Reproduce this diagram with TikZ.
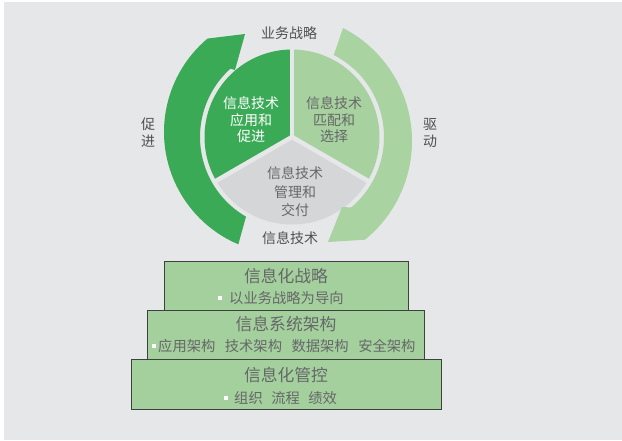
\documentclass[tikz,border=0pt]{standalone}
\usepackage{fontspec}
\newfontfamily\cjk{Noto Sans CJK SC}
\definecolor{bgc}{HTML}{E6E7E8}
\definecolor{dkg}{HTML}{3BAA56}
\definecolor{ltg}{HTML}{A9D3A1}
\definecolor{rsec}{HTML}{A7D19F}
\definecolor{gsec}{HTML}{D5D6D8}
\definecolor{boxg}{HTML}{A4D09D}
\definecolor{txg}{HTML}{666769}
\definecolor{txd}{HTML}{505052}
\tikzset{
  outlbl/.style={font=\cjk\fontsize{14}{17}\selectfont, text=txd, align=center, inner sep=0pt},
  pielbl/.style={font=\cjk\fontsize{14}{16.5}\selectfont, align=center, inner sep=0pt},
  layerbox/.style={draw=black!75, line width=1pt, fill=boxg},
  ttl/.style={font=\cjk\fontsize{16.8}{18}\selectfont, text=txg, inner sep=0pt},
  sub/.style={font=\cjk\fontsize{14.3}{16}\selectfont, text=txg, inner sep=0pt, anchor=west},
  bul/.style={fill=white, minimum size=4pt, inner sep=0pt}
}
\begin{document}
\begin{tikzpicture}[x=1pt,y=-1pt]
\useasboundingbox (0,0) rectangle (622,440);
\fill[white] (0,0) rectangle (622,440);
\fill[bgc] (4,2) rectangle (622,440);
% pie sectors
\fill[dkg] (292,137) -- plot[domain=90:210,samples=60] ({292+87.5*cos(\x)},{137-87.5*sin(\x)}) -- cycle;
\fill[rsec] (292,137) -- plot[domain=-30:90,samples=60] ({292+87.5*cos(\x)},{137-87.5*sin(\x)}) -- cycle;
\fill[gsec] (292,137) -- plot[domain=210:330,samples=60] ({292+87.5*cos(\x)},{137-87.5*sin(\x)}) -- cycle;
\coordinate (c) at (292,137);
\draw[bgc, line width=4.5pt] (c) -- ++(0,-90);
\draw[bgc, line width=4.5pt] (c) -- ({292+90*cos(210)},{137-90*sin(210)});
\draw[bgc, line width=4.5pt] (c) -- ({292+90*cos(330)},{137-90*sin(330)});
% left arrow
\fill[dkg] plot[domain=247:130,samples=80] ({286+122*cos(\x)},{132-122*sin(\x)})
  -- (245,34) -- (235,70)
  -- plot[domain=132:240,samples=80] ({292+92*cos(\x)},{137-92*sin(\x)}) -- cycle;
% right arrow
\fill[ltg] plot[domain=62.8:-51,samples=80] ({285+127*cos(\x)},{141-127*sin(\x)})
  -- (328,242) -- (342,207)
  -- plot[domain=-50:63,samples=80] ({292+92*cos(\x)},{137-92*sin(\x)}) -- cycle;
% pie labels
\node[pielbl, text=white] (pl) at (251,120) {信息技术\\应用和\\促进};
\node[pielbl, text=txg] (pr) at (334,120) {信息技术\\匹配和\\选择};
\node[pielbl, text=txg, font=\cjk\fontsize{14}{18.5}\selectfont] (pb) at (295,192) {信息技术\\管理和\\交付};
% outer labels
\node[outlbl] (top) at (289,33) {业务战略};
\node[outlbl] (bot) at (290,238) {信息技术};
\node[outlbl] (lft) at (148,133) {促\\进};
\node[outlbl] (rgt) at (430,133) {驱\\动};
% layers
\node[layerbox, minimum width=244pt, minimum height=49pt] (b1) at (286,285.5) {};
\node[layerbox, minimum width=277pt, minimum height=49pt] (b2) at (285.5,334.5) {};
\node[layerbox, minimum width=310pt, minimum height=50pt] (b3) at (286,384) {};
\node[ttl] (t1) at (286,276) {信息化战略};
\node[bul] (u1) at (220,298) {};
\node[sub] (s1) at (229,298) {以业务战略为导向};
\node[ttl] (t2) at (286,324) {信息系统架构};
\node[bul] (u2) at (154,346) {};
\node[sub] (s2) at (158,346) {应用架构\hspace{9.5pt}技术架构\hspace{9.5pt}数据架构\hspace{9.5pt}安全架构};
\node[ttl] (t3) at (286,375) {信息化管控};
\node[bul] (u3) at (226,398) {};
\node[sub] (s3) at (234,398) {组织\hspace{8.5pt}流程\hspace{8.5pt}绩效};
\end{tikzpicture}
\end{document}
